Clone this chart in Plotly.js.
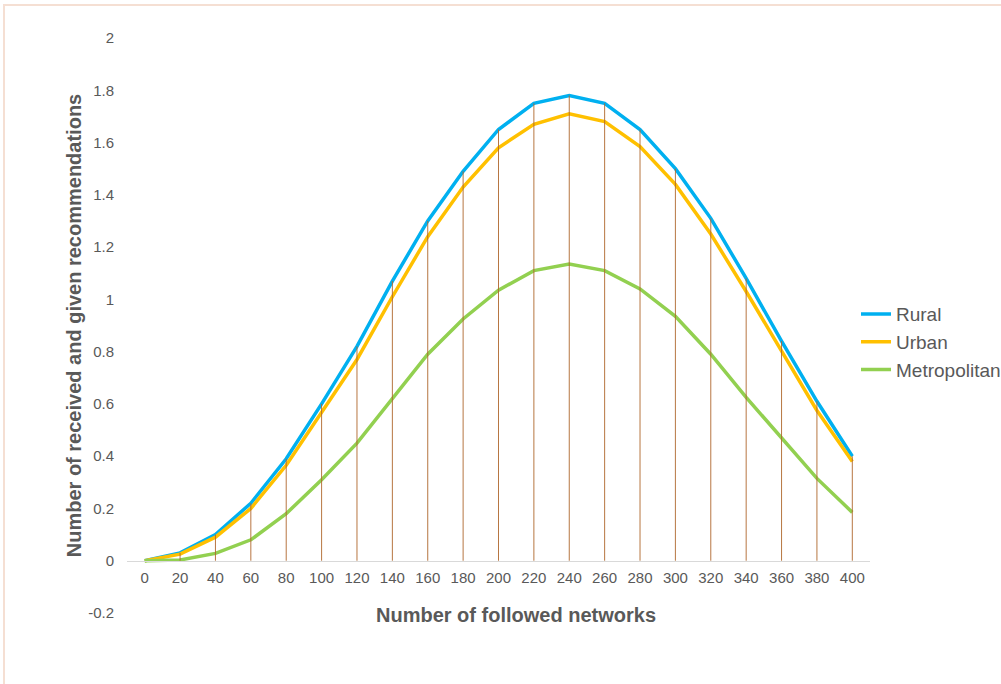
<!DOCTYPE html>
<html>
<head>
<meta charset="utf-8">
<script src="https://cdn.plot.ly/plotly-3.0.1.min.js"></script>
<style>
  html, body { margin: 0; padding: 0; background: #ffffff; overflow: hidden; }
  #frame {
    position: absolute; left: 3px; top: 4px; width: 1200px; height: 900px;
    border-top: 2px solid #f5dfd3; border-left: 2px solid #f5dfd3;
  }
  #chart { position: absolute; left: 0; top: 0; width: 1001px; height: 684px; }
</style>
</head>
<body>
<div id="frame"></div>
<div id="chart"></div>
<script>
// Number of followed networks (category axis)
const networks = [0, 20, 40, 60, 80, 100, 120, 140, 160, 180, 200, 220, 240, 260, 280, 300, 320, 340, 360, 380, 400];

// Received and given recommendations per area type
const rural = [0, 0.03, 0.10, 0.22, 0.39, 0.60, 0.82, 1.07, 1.30, 1.49, 1.65, 1.75, 1.78, 1.75, 1.65, 1.50, 1.31, 1.08, 0.84, 0.61, 0.40];
const urban = [0, 0.025, 0.09, 0.20, 0.365, 0.57, 0.77, 1.01, 1.24, 1.43, 1.58, 1.67, 1.71, 1.68, 1.585, 1.44, 1.25, 1.03, 0.805, 0.575, 0.38];
const metropolitan = [0, 0.003, 0.028, 0.08, 0.18, 0.31, 0.45, 0.62, 0.79, 0.925, 1.035, 1.11, 1.135, 1.11, 1.04, 0.935, 0.79, 0.625, 0.47, 0.315, 0.185];

const yTicks = [-0.2, 0, 0.2, 0.4, 0.6, 0.8, 1, 1.2, 1.4, 1.6, 1.8, 2];
const yTickText = ['-0.2', '0', '0.2', '0.4', '0.6', '0.8', '1', '1.2', '1.4', '1.6', '1.8', '2'];

const FONT = 'Arial, "Liberation Sans", sans-serif';
const GREY = '#595959';

// Drop lines: from the highest series value at each category down to zero
const dropX = [], dropY = [];
networks.forEach((n, i) => {
  const top = Math.max(rural[i], urban[i], metropolitan[i]);
  dropX.push(n, n, null);
  dropY.push(0, top, null);
});

const lineTrace = (name, ys, color, group) => ({
  type: 'scatter', mode: 'lines', name: name, x: networks, y: ys,
  line: { color: color, width: 3.5 }, legendgroup: group,
  hoverinfo: 'x+y+name'
});

const traces = [
  lineTrace('Rural', rural, '#00b0f0', 'g1'),
  lineTrace('Urban', urban, '#ffc000', 'g2'),
  lineTrace('Metropolitan', metropolitan, '#92d050', 'g3'),
  {
    type: 'scatter', mode: 'lines', x: dropX, y: dropY,
    line: { color: '#b0682e', width: 1 }, opacity: 0.9,
    showlegend: false, hoverinfo: 'skip', connectgaps: false
  }
];

const layout = {
  width: 1001, height: 684,
  paper_bgcolor: 'rgba(0,0,0,0)', plot_bgcolor: 'rgba(0,0,0,0)',
  margin: { l: 127, r: 131, t: 38, b: 71, autoexpand: false },
  font: { family: FONT, color: GREY, size: 15 },
  showlegend: true,
  legend: {
    x: (856 - 127) / 743, xanchor: 'left', y: 0.471, yanchor: 'middle',
    font: { family: FONT, size: 19, color: GREY },
    traceorder: 'grouped', tracegroupgap: 0,
    bgcolor: 'rgba(0,0,0,0)'
  },
  xaxis: {
    range: [-10, 410], anchor: 'free', position: 0.2 / 2.2,
    tickmode: 'array', tickvals: networks, ticktext: networks.map(String),
    showline: true, linecolor: '#d9d9d9', linewidth: 1,
    showgrid: false, zeroline: false, ticks: '',
    ticklabelstandoff: 3,
    tickfont: { family: FONT, size: 15, color: GREY }
  },
  yaxis: {
    range: [-0.2, 2], tickmode: 'array', tickvals: yTicks, ticktext: yTickText,
    showgrid: false, zeroline: false, showline: false, ticks: '',
    ticklabelstandoff: 12,
    tickfont: { family: FONT, size: 15, color: GREY },
    title: {
      text: 'Number of received and given recommendations',
      font: { family: FONT, size: 20, color: GREY, weight: 'bold' },
      standoff: 1
    }
  },
  annotations: [{
    xref: 'paper', yref: 'paper', x: (516 - 127) / 743, y: -0.0035,
    xanchor: 'center', yanchor: 'middle', showarrow: false,
    text: '<b>Number of followed networks</b>',
    font: { family: FONT, size: 20, color: GREY }
  }]
};

Plotly.newPlot('chart', traces, layout, { displayModeBar: false, staticPlot: true });
</script>
</body>
</html>
